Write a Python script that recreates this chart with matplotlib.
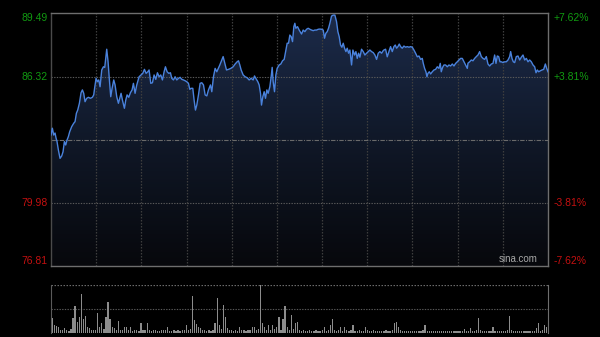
import numpy as np
import matplotlib
matplotlib.use('Agg')
import matplotlib.pyplot as plt
from matplotlib.patches import Polygon
from matplotlib.colors import LinearSegmentedColormap

prev_close = 83.15
price_ticks = [76.81, 79.98, 86.32, 89.49]
price_labels = ['76.81', '79.98', '86.32', '89.49']
pct_labels = ['-7.62%', '-3.81%', '+3.81%', '+7.62%']
tick_colors = ['#c41010', '#c41010', '#119a11', '#119a11']

minutes = [
    0.0, 0.66, 1.3, 1.95, 2.43, 2.91, 3.56, 4.36, 5.17, 5.81, 6.46, 7.1, 7.75, 8.39, 9.04,
    10.0, 10.97, 11.61, 12.26, 12.9, 13.71, 14.51, 15.16, 15.8, 16.44, 17.25, 18.06, 19.02,
    19.99, 20.63, 21.12, 21.76, 22.41, 23.05, 23.69, 24.5, 25.31, 25.95, 26.43, 26.91, 27.56,
    28.2, 28.85, 29.49, 30.3, 30.94, 31.75, 32.55, 33.2, 33.84, 34.49, 35.45, 36.1, 36.74,
    37.55, 38.35, 39.15, 39.8, 40.6, 41.41, 42.54, 43.5, 44.31, 45.12, 45.92, 46.73, 47.37,
    48.17, 48.98, 49.78, 50.59, 51.4, 52.2, 53.0, 53.81, 54.62, 55.26, 56.07, 56.87, 57.68,
    58.32, 59.13, 59.93, 60.74, 61.55, 62.35, 63.15, 63.96, 64.76, 65.57, 66.38, 67.02,
    67.66, 68.47, 69.11, 69.76, 70.4, 71.21, 72.01, 72.82, 73.63, 74.43, 75.24, 76.04,
    77.01, 77.65, 78.46, 79.26, 80.07, 81.52, 82.48, 83.13, 83.77, 84.74, 85.7, 86.83,
    87.96, 88.92, 89.89, 90.54, 91.18, 91.82, 92.79, 93.76, 94.72, 95.69, 96.65, 97.62,
    98.27, 98.91, 99.88, 100.52, 101.17, 101.65, 102.29, 102.94, 103.58, 104.23, 104.87,
    105.68, 106.32, 106.81, 107.29, 107.93, 108.58, 109.22, 110.18, 110.99, 111.8, 112.6,
    113.41, 114.05, 114.7, 115.34, 115.98, 116.63, 117.27, 117.76, 118.24, 119.05, 119.85,
    120.98, 121.78, 122.59, 123.39, 124.2, 125.0, 125.81, 126.61, 127.42, 128.22, 129.03,
    129.84, 130.64, 131.45, 132.09, 132.73, 133.38, 134.02, 134.67, 135.47, 136.28, 137.08,
    137.89, 138.53, 139.17, 139.82, 140.46, 141.11, 141.75, 142.4, 143.04, 143.69, 144.33,
    145.14, 145.78, 146.59, 147.23, 147.88, 148.52, 149.17, 149.97, 150.78, 151.58, 152.39,
    153.19, 154.0, 154.8, 155.61, 156.41, 157.22, 158.02, 158.83, 159.64, 160.44, 160.76,
    161.57, 162.37, 163.18, 163.98, 164.79, 165.59, 166.24, 166.88, 167.53, 168.17, 168.82,
    169.62, 170.43, 171.23, 172.04, 172.84, 173.65, 174.45, 175.26, 176.06, 176.87, 177.68,
    178.48, 179.29, 179.77, 180.41, 181.06, 181.54, 182.02, 182.67, 183.31, 184.11, 184.92,
    185.73, 186.53, 187.34, 187.98, 188.46, 189.11, 189.75, 190.56, 191.36, 192.17, 192.97,
    193.78, 194.59, 195.39, 196.2, 197.0, 197.81, 198.61, 199.42, 200.22, 201.03, 201.35,
    202.16, 202.96, 203.77, 204.57, 205.38, 206.18, 206.99, 207.79, 208.6, 209.4, 210.21,
    211.01, 211.82, 212.63, 213.43, 214.24, 214.88, 215.52, 216.17, 216.81, 217.46, 218.26,
    219.07, 219.87, 220.68, 221.48, 221.97, 222.61, 223.25, 223.9, 224.7, 225.51, 226.32,
    227.12, 227.93, 228.73, 229.54, 230.34, 231.15, 231.95, 232.76, 233.57, 234.21, 234.85,
    235.5, 236.3, 237.11, 237.92, 238.72, 239.37, 240.0,
]

prices = [
    83.39, 83.73, 83.39, 83.49, 83.24, 83.06, 82.64, 82.22, 82.34, 82.55, 83.06, 82.89, 83.14, 83.31, 83.56,
    83.81, 83.98, 84.06, 84.48, 84.64, 84.98, 85.51, 85.65, 85.48, 85.06, 85.23, 85.28, 85.23,
    85.28, 85.40, 85.78, 86.23, 86.06, 86.15, 85.81, 86.65, 86.81, 86.78, 87.23, 87.69, 87.06,
    86.15, 85.31, 85.73, 86.15, 85.90, 85.31, 84.98, 85.23, 85.48, 85.14, 84.73, 85.14, 85.40,
    85.28, 85.51, 85.65, 85.98, 85.48, 85.90, 86.31, 86.40, 86.48, 86.68, 86.48, 86.56, 86.65,
    85.98, 86.01, 86.40, 86.18, 86.51, 86.31, 86.40, 86.15, 86.56, 86.81, 86.56, 86.48, 86.51,
    86.23, 86.15, 86.31, 86.15, 86.23, 86.28, 86.18, 86.15, 86.11, 86.06, 85.98, 85.68,
    85.73, 85.73, 85.14, 84.64, 84.89, 85.40, 85.98, 86.01, 85.90, 85.40, 85.35, 85.65,
    85.90, 85.56, 86.31, 86.73, 86.56, 86.90, 87.15, 87.32, 87.06, 86.65, 86.68, 86.73,
    86.81, 86.95, 87.06, 87.11, 86.90, 86.65, 86.40, 86.31, 86.26, 86.15, 86.23, 86.15,
    86.35, 86.23, 86.06, 85.90, 85.48, 84.89, 85.31, 85.56, 85.23, 85.65, 85.48,
    85.81, 86.31, 86.78, 86.06, 85.56, 86.40, 86.73, 86.90, 86.95, 87.11, 87.18,
    87.65, 87.99, 87.99, 88.40, 88.32, 88.07, 88.82, 88.99, 88.74, 88.82, 88.65,
    88.45, 88.65, 88.57, 88.69, 88.74, 88.69, 88.65, 88.62, 88.65, 88.65, 88.69,
    88.70, 88.69, 88.65, 88.24, 88.49, 88.57, 88.74, 88.99, 89.35, 89.40, 89.40,
    89.07, 88.57, 88.32, 87.90, 87.79, 87.99, 87.74, 87.57, 87.74, 87.49, 87.65,
    86.90, 87.65, 87.40, 87.57, 87.23, 87.49, 87.29, 87.69, 87.57, 87.40, 87.49,
    87.57, 87.65, 87.57, 87.52, 87.40, 87.18, 87.49, 87.57, 87.49, 87.62, 87.65,
    87.69, 87.31, 87.57, 87.82, 87.57, 87.82, 87.90, 87.74, 87.82, 87.95, 87.82,
    87.74, 87.85, 87.79, 87.82, 87.79, 87.82, 87.79, 87.65, 87.49, 87.31, 87.35,
    87.18, 87.23, 86.98, 86.73, 86.56, 86.31, 86.48, 86.56, 86.45, 86.56, 86.65,
    86.68, 86.81, 86.73, 86.98, 86.56, 86.78, 86.90, 86.90, 86.81, 86.90, 86.85,
    86.95, 86.85, 86.98, 87.06, 87.15, 87.23, 87.23, 87.06, 86.90, 86.73, 86.99,
    87.06, 87.15, 87.11, 87.23, 87.32, 87.40, 87.57, 87.32, 87.23, 87.18, 87.32,
    86.95, 86.85, 86.95, 86.98, 87.40, 86.98, 87.35, 87.32, 87.06, 87.06, 87.02,
    87.06, 87.06, 87.15, 87.32, 87.57, 87.23, 87.06, 87.02, 87.32, 87.35, 87.15,
    87.29, 87.40, 87.15, 87.23, 87.06, 87.15, 87.06, 86.90, 86.81, 86.51, 86.65,
    86.56, 86.61, 86.65, 86.68, 86.95, 86.73, 86.56,
]

volumes = [
    144, 77, 67, 54, 30, 25, 44, 28, 22, 35,
    144, 267, 110, 160, 387, 134, 167, 60, 44, 30,
    25, 28, 194, 60, 94, 35, 160, 304, 134, 60,
    44, 28, 120, 30, 25, 60, 54, 28, 54, 22,
    25, 30, 22, 94, 28, 25, 94, 30, 22, 25,
    28, 20, 22, 30, 25, 28, 54, 22, 20, 25,
    22, 28, 20, 25, 30, 77, 28, 35, 367, 127,
    87, 60, 44, 30, 25, 22, 28, 20, 30, 94,
    344, 77, 35, 277, 160, 44, 25, 30, 22, 25,
    20, 54, 28, 25, 22, 30, 25, 54, 60, 28,
    35, 477, 100, 60, 30, 77, 28, 77, 35, 60,
    160, 30, 134, 267, 60, 28, 177, 35, 100, 110,
    30, 22, 25, 20, 22, 25, 20, 22, 25, 20,
    22, 25, 54, 22, 28, 77, 137, 25, 22, 28,
    60, 22, 60, 25, 22, 28, 77, 20, 22, 25,
    20, 22, 60, 25, 20, 22, 25, 20, 22, 20,
    22, 20, 25, 20, 22, 25, 100, 110, 60, 25,
    20, 18, 20, 22, 18, 20, 22, 18, 20, 22,
    25, 77, 22, 18, 20, 22, 18, 20, 22, 18,
    20, 18, 22, 20, 18, 20, 22, 18, 20, 22,
    34, 20, 22, 44, 20, 22, 25, 144, 30, 20,
    18, 20, 22, 18, 54, 20, 22, 18, 20, 22,
    20, 25, 167, 28, 20, 18, 20, 22, 18, 20,
    18, 20, 22, 18, 20, 44, 100, 22, 25, 77,
    60,
]

W, H = 600, 337
fig = plt.figure(figsize=(W / 100, H / 100), dpi=100, facecolor='black')
plt.rcParams['font.family'] = ['Liberation Sans', 'DejaVu Sans']

ymin, ymax = price_ticks[0], price_ticks[-1]
t_end = 240

ax = fig.add_axes([51 / W, (H - 266.3) / H, 497 / W, 253 / H])
ax.set_facecolor('black')
ax.set_xlim(0, t_end)
ax.set_ylim(ymin, ymax)

# gradient fill under the line
cmap = LinearSegmentedColormap.from_list('fill', ['#07080c', '#101828', '#1c2b4a'])
grad = np.linspace(0, 1, 256).reshape(-1, 1)
im = ax.imshow(grad, aspect='auto', cmap=cmap, origin='lower',
               extent=[0, t_end, ymin, ymax], zorder=1, interpolation='bilinear')
verts = [(minutes[0], ymin)] + list(zip(minutes, prices)) + [(minutes[-1], ymin)]
patch = Polygon(verts, closed=True, facecolor='none', edgecolor='none')
ax.add_patch(patch)
im.set_clip_path(patch)

# grid
for i in range(1, 11):
    ax.axvline(i * t_end / 11, color='#3e3e3e', lw=0.9, ls=(0, (1.2, 1.2)), zorder=2)
for v in (price_ticks[1], price_ticks[2]):
    ax.axhline(v, color='#5a5a5a', lw=0.8, ls=(0, (1.2, 1.2)), zorder=2)
ax.axhline(prev_close, color='#6a6a6a', lw=0.8, ls=(0, (4, 1.2, 1, 1.2)), zorder=2)

ax.plot(minutes, prices, color='#4a82dc', lw=1.0, zorder=3, solid_joinstyle='round')

ax.set_xticks([])
ax.set_yticks([])
for side, sp in ax.spines.items():
    sp.set_color('#6e6e6e')
    sp.set_linewidth(1.0)
ax.spines['left'].set_color('#4a4a4a')

# tick labels
for v, lab, pl, c in zip(price_ticks, price_labels, pct_labels, tick_colors):
    if v == ymax:
        va = 'top'
    elif v == ymin:
        va = 'bottom'
    else:
        va = 'center'
    ax.text(-0.007, v, lab, transform=ax.get_yaxis_transform(), ha='right', va=va,
            color=c, fontsize=7.5)
    ax.text(1.011, v, pl, transform=ax.get_yaxis_transform(), ha='left', va=va,
            color=c, fontsize=7.5)

ax.text(0.98, 0.008, 'sina.com', transform=ax.transAxes, ha='right', va='bottom',
        color='#a8a8a8', fontsize=7, zorder=4)

# volume panel
vx = fig.add_axes([51 / W, (H - 332.7) / H, 497 / W, 47.7 / H])
vx.set_facecolor('black')
vmax = max(volumes)
vx.set_xlim(-0.7, t_end + 0.7)
vx.set_ylim(0, vmax)
vx.bar(range(len(volumes)), volumes, width=0.6, color='#8c8c8c', zorder=3)
vx.axhline(vmax, color='#6a6a6a', lw=0.9, ls=(0, (1.2, 1.2)), zorder=2)
vx.axhline(vmax / 2, color='#5a5a5a', lw=0.8, ls=(0, (1.2, 1.2)), zorder=2)
vx.set_xticks([])
vx.set_yticks([])
vx.spines['top'].set_visible(False)
vx.spines['bottom'].set_visible(False)
vx.spines['left'].set_color('#5a5a5a')
vx.spines['right'].set_color('#6e6e6e')

fig.savefig('out.png', dpi=100, facecolor='black')
